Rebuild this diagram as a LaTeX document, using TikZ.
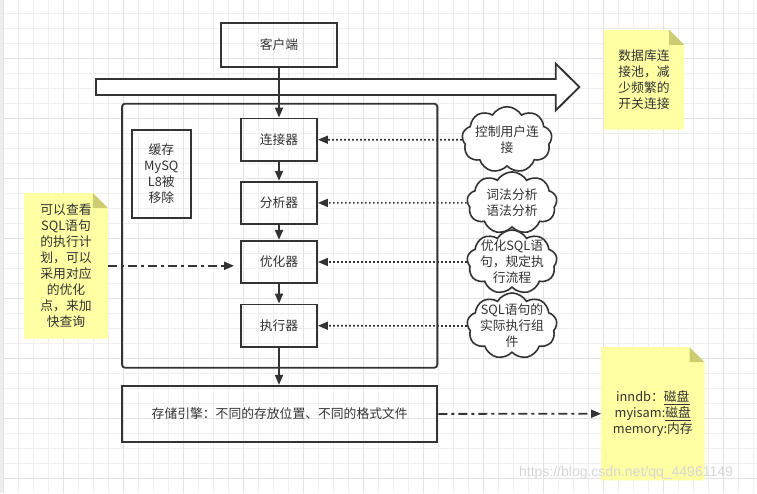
\documentclass[tikz,border=0pt]{standalone}
\usepackage{fontspec}
\setmainfont{Noto Sans CJK SC}
\newfontfamily\wmfont{Liberation Sans}
\usetikzlibrary{arrows.meta,shapes.symbols,backgrounds}
\definecolor{ink}{HTML}{333333}
\definecolor{gridminor}{HTML}{EFEFEF}
\definecolor{gridmajor}{HTML}{E2E2E2}
\definecolor{notey}{HTML}{FFFFA3}
\definecolor{notefold}{HTML}{CCCC73}

\begin{document}
\begin{tikzpicture}[x=1pt,y=-1pt,
	every node/.style={font=\fontsize{12.8}{16}\selectfont,text=ink},
	box/.style={draw=ink,line width=1.8pt,inner sep=0pt,align=center},
	stage/.style={box,minimum width=76pt,minimum height=42.5pt},
	cloudbox/.style={cloud,cloud puffs=9,cloud puff arc=120,cloud ignores aspect,
		draw=ink,line width=1.6pt,fill=white,inner sep=0pt},
	txt/.style={align=center,inner sep=0pt},
	note/.style={align=center,inner sep=0pt},
	flow/.style={draw=ink,line width=1.8pt,-{Triangle[length=10pt,width=8pt]}},
	dotflow/.style={flow,line width=1.6pt,dash pattern=on 1.6pt off 2.4pt},
	dashdot/.style={flow,dash pattern=on 9pt off 4pt on 3pt off 4pt}]
	\useasboundingbox (0,0) rectangle (757,493);
	\def\fold{15pt}
	% grid paper
	\begin{scope}[on background layer]
		\fill[white] (0,0) rectangle (757,493);
		\fill[black!7] (0,0) rectangle (3.3,493);
		\foreach \x in {18.3,33.3,...,757} \draw[gridminor,line width=1pt] (\x,0) -- (\x,493);
		\foreach \y in {13.3,28.3,...,493} \draw[gridminor,line width=1pt] (3.3,\y) -- (757,\y);
		\foreach \x in {3.3,63.3,...,757} \draw[gridmajor,line width=1pt] (\x,0) -- (\x,493);
		\foreach \y in {58.3,118.3,...,493} \draw[gridmajor,line width=1pt] (3.3,\y) -- (757,\y);
	\end{scope}

	% connection pool arrow
	\draw[ink,line width=1.8pt,fill=white,line join=miter]
		(96,79) -- (555.7,79) -- (555.7,63.5) -- (579.3,87) -- (555.7,110.5)
		-- (555.7,95) -- (96,95) -- cycle;

	\node[box,rounded corners=3pt,minimum width=315.3pt,minimum height=264pt] (srv) at (279.7,235.7) {};
	\node[box,minimum width=116.6pt,minimum height=44pt] (client) at (279,45) {客户端};
	\node[box,minimum width=59.3pt,minimum height=88.6pt] (cache) at (161.3,174) {缓存\\MySQ\\L8被\\移除};
	\node[stage] (conn) at (279,139.7) {连接器};
	\node[stage] (ana) at (279,202.9) {分析器};
	\node[stage] (opt) at (279,262) {优化器};
	\node[stage] (exe) at (279,325.7) {执行器};
	\node[box,minimum width=315.3pt,minimum height=56.3pt] (store) at (279.7,413.9)
		{存储引擎：不同的存放位置、不同的格式文件};

	\draw[flow] (client) -- (conn);
	\draw[flow] (conn) -- (ana);
	\draw[flow] (ana) -- (opt);
	\draw[flow] (opt) -- (exe);
	\draw[flow] (exe.south) -- (exe.south |- store.north);

	% clouds
	\node[cloudbox,minimum width=90pt,minimum height=66pt] (c1) at (507,139.7) {};
	\node[txt] (t1) at (c1) {控制用户连\\接};
	\node[cloudbox,minimum width=90pt,minimum height=62pt] (c2) at (512,202.9) {};
	\node[txt] (t2) at (c2) {词法分析\\语法分析};
	\node[cloudbox,minimum width=90pt,minimum height=64pt] (c3) at (512,262) {};
	\node[txt] (t3) at (c3) {优化SQL语\\句，规定执\\行流程};
	\node[cloudbox,minimum width=90pt,minimum height=66pt] (c4) at (512,326) {};
	\node[txt] (t4) at (c4) {SQL语句的\\实际执行组\\件};

	\draw[dotflow] (c1.west) -- (conn.east);
	\draw[dotflow] (c2.west) -- (ana.east);
	\draw[dotflow] (c3.west) -- (opt.east);
	\draw[dotflow] (c4.west) -- (exe.east);

	% sticky notes
	\node[note,minimum width=80pt,minimum height=99.3pt] (n1) at (644,79.7)
		{数据库连\\接池，减\\少频繁的\\开关连接};
	\node[note,minimum width=83.4pt,minimum height=145pt] (n2) at (66,265.8)
		{可以查看\\SQL语句\\的执行计\\划，可以\\采用对应\\的优化\\点，来加\\快查询};
	\node[note,minimum width=103pt,minimum height=132.7pt] (n3) at (652.8,413.7)
		{inndb：\underline{磁盘}\\myisam:\underline{磁盘}\\memory:内存};
	\begin{scope}[on background layer]
		\foreach \n in {n1,n2,n3} {
			\fill[notey] (\n.north west) -- ([xshift=-\fold]\n.north east)
				-- ([yshift=-\fold]\n.north east) -- (\n.south east) -- (\n.south west) -- cycle;
			\fill[notefold] ([xshift=-\fold]\n.north east) -- ([yshift=-\fold]\n.north east)
				-- ([xshift=-\fold,yshift=-\fold]\n.north east) -- cycle;
		}
	\end{scope}

	\draw[dashdot] (n2.east) -- ([xshift=-6pt]n2.east -| opt.west);
	\draw[dashdot] (store.east) -- (n3.west);

	\node[font=\wmfont\fontsize{14}{14}\selectfont,text=black!16] (wm) at (626,473)
		{https://blog.csdn.net/qq\_44961149};
\end{tikzpicture}
\end{document}
